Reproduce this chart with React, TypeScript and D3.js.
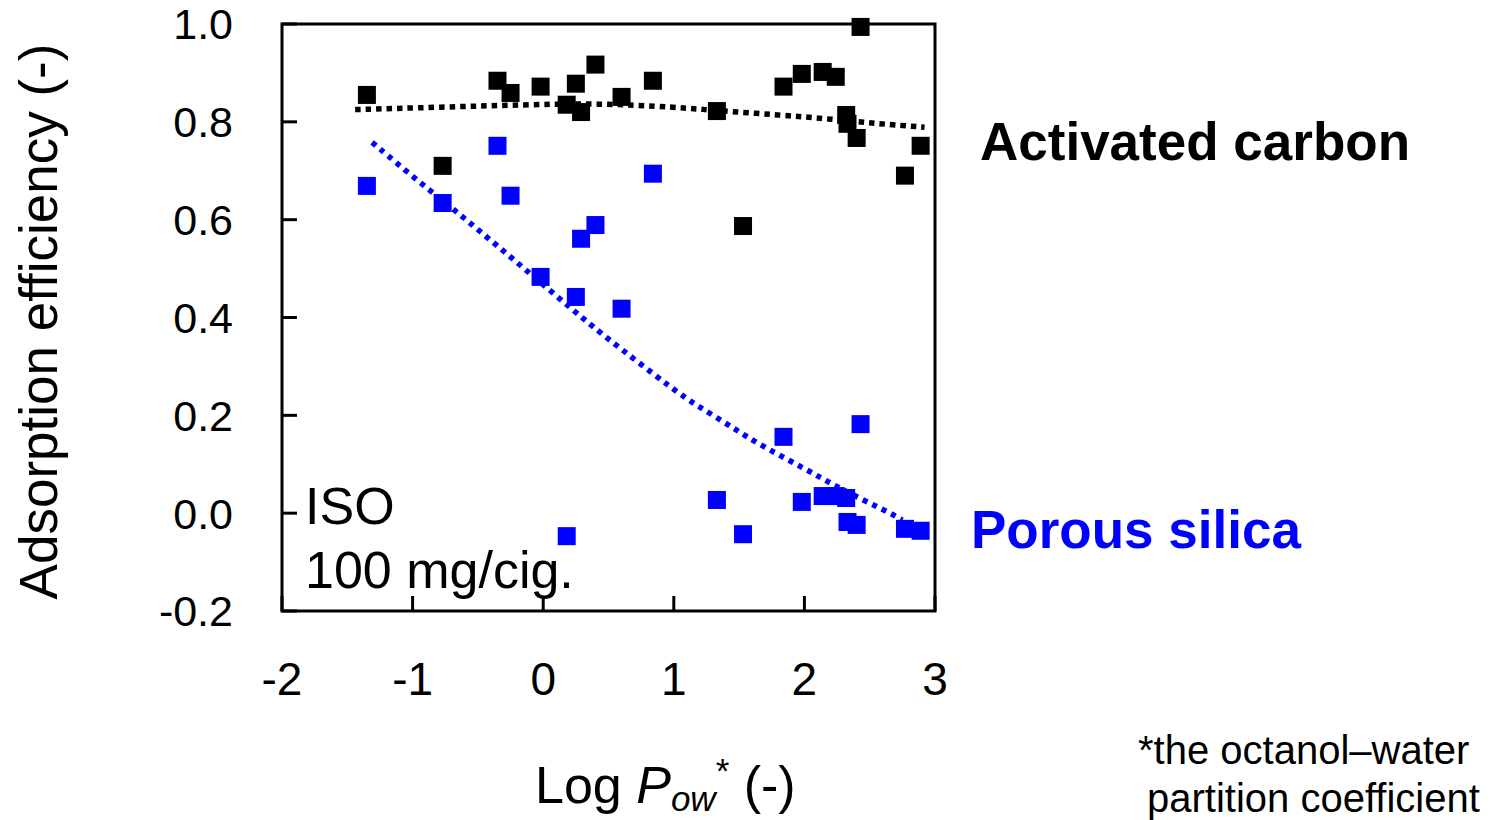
import React from "react";
import * as d3 from "d3";

// Shared x values (Log Pow) for each compound
const logPow = [-1.35, -0.77, -0.35, -0.25, -0.02, 0.18, 0.25, 0.29, 0.40, 0.60, 0.84, 1.33, 1.53, 1.84, 1.98, 2.14, 2.24, 2.32, 2.33, 2.40, 2.43, 2.77, 2.89];
const carbonEff = [0.855, 0.710, 0.884, 0.859, 0.872, 0.835, 0.878, 0.820, 0.917, 0.851, 0.884, 0.822, 0.587, 0.872, 0.898, 0.902, 0.892, 0.814, 0.796, 0.767, 0.994, 0.690, 0.751];
const silicaEff = [0.669, 0.634, 0.751, 0.649, 0.483, -0.047, 0.442, 0.561, 0.589, 0.418, 0.694, 0.027, -0.043, 0.156, 0.023, 0.035, 0.035, 0.031, -0.018, -0.024, 0.182, -0.032, -0.036];

// Trend curves
const carbonTrendX = [-1.44, -0.79, -0.13, 0.41, 1.02, 1.33, 1.81, 2.19, 2.57, 2.92];
const carbonTrendY = [0.825, 0.830, 0.835, 0.838, 0.830, 0.823, 0.814, 0.806, 0.796, 0.789];
const silicaTrendX = [-1.31, -0.94, -0.68, -0.43, -0.18, 0.07, 0.32, 0.44, 1.02, 1.16, 1.44, 1.56, 1.72, 2.01, 2.22, 2.44, 2.66, 2.75];
const silicaTrendY = [0.758, 0.675, 0.620, 0.564, 0.508, 0.451, 0.395, 0.368, 0.248, 0.223, 0.177, 0.156, 0.131, 0.090, 0.058, 0.028, 0.000, -0.014];

const xTicks = [-2, -1, 0, 1, 2, 3];
const yTicks = [-0.2, 0.0, 0.2, 0.4, 0.6, 0.8, 1.0];

const FONT = "'Liberation Sans', Arial, Helvetica, sans-serif";

export default function App() {
  const W = 1503, H = 820;
  const left = 282, right = 935, top = 24, bottom = 611;
  const x = d3.scaleLinear().domain([-2, 3]).range([left, right]);
  const y = d3.scaleLinear().domain([-0.2, 1.0]).range([bottom, top]);
  const line = d3
    .line<[number, number]>()
    .x((d) => x(d[0]))
    .y((d) => y(d[1]))
    .curve(d3.curveBasis);

  const carbonTrend = carbonTrendX.map((v, i) => [v, carbonTrendY[i]] as [number, number]);
  const silicaTrend = silicaTrendX.map((v, i) => [v, silicaTrendY[i]] as [number, number]);
  const ms = 18;
  const tickLen = 15;

  return (
    <svg width={W} height={H} style={{ position: "absolute", left: 0, top: 0, background: "#fff" }} fontFamily={FONT}>
      <rect x={0} y={0} width={W} height={H} fill="#fff" />
      {/* trend lines */}
      <path d={line(carbonTrend) || ""} fill="none" stroke="#000" strokeWidth={5.5} strokeDasharray="5.5 5" />
      <path d={line(silicaTrend) || ""} fill="none" stroke="#0000ff" strokeWidth={5.5} strokeDasharray="5 5.5" />
      {/* markers */}
      {logPow.map((v, i) => (
        <rect key={"c" + i} x={x(v) - ms / 2} y={y(carbonEff[i]) - ms / 2} width={ms} height={ms} fill="#000" />
      ))}
      {logPow.map((v, i) => (
        <rect key={"s" + i} x={x(v) - ms / 2} y={y(silicaEff[i]) - ms / 2} width={ms} height={ms} fill="#0000ff" />
      ))}
      {/* frame */}
      <rect x={left} y={top} width={right - left} height={bottom - top} fill="none" stroke="#000" strokeWidth={3} />
      {/* ticks */}
      {xTicks.map((t) => (
        <g key={"xt" + t}>
          <line x1={x(t)} x2={x(t)} y1={bottom} y2={bottom - tickLen} stroke="#000" strokeWidth={3} />
          <text x={x(t)} y={695} fontSize={46} textAnchor="middle">{t}</text>
        </g>
      ))}
      {yTicks.map((t) => (
        <g key={"yt" + t}>
          <line x1={left} x2={left + tickLen} y1={y(t)} y2={y(t)} stroke="#000" strokeWidth={3} />
          <text x={233} y={y(t)} dy="0.36em" fontSize={43} textAnchor="end">{t.toFixed(1)}</text>
        </g>
      ))}
      {/* axis titles */}
      <text transform={`translate(57, ${(top + bottom) / 2 + 4}) rotate(-90)`} fontSize={53} textAnchor="middle">
        Adsorption efficiency (-)
      </text>
      <text x={535} y={803} fontSize={52}>
        Log <tspan fontStyle="italic">P</tspan>
        <tspan fontStyle="italic" fontSize={35} dy={8}>ow</tspan>
        <tspan fontSize={35} dy={-28}>*</tspan>
        <tspan dy={20}> (-)</tspan>
      </text>
      {/* annotations */}
      <text x={305} y={524} fontSize={52}>ISO</text>
      <text x={305} y={588} fontSize={52}>100 mg/cig.</text>
      <text x={980} y={160} fontSize={53} fontWeight="bold" fill="#000">Activated carbon</text>
      <text x={971} y={548} fontSize={53} fontWeight="bold" fill="#0000ff">Porous silica</text>
      <text x={1138} y={764} fontSize={40}>*the octanol–water</text>
      <text x={1147} y={812} fontSize={40}>partition coefficient</text>
    </svg>
  );
}
